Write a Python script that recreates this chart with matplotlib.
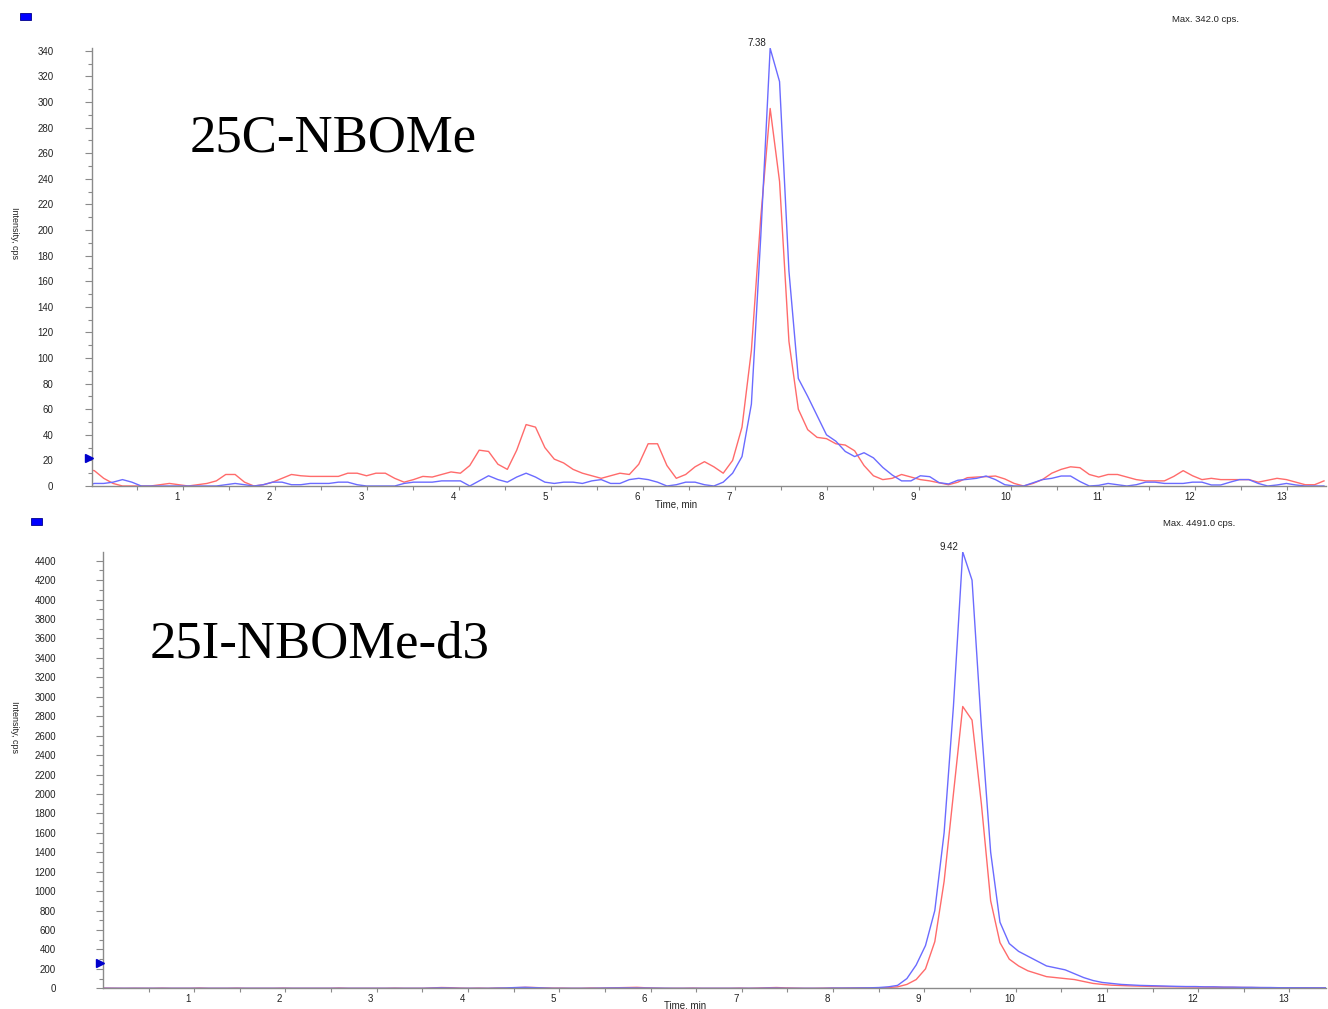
import numpy as np
import matplotlib
matplotlib.use("Agg")
import matplotlib.pyplot as plt
import matplotlib.transforms as mtransforms
from matplotlib.patches import Rectangle

plt.rcParams['font.family'] = ['Liberation Sans', 'DejaVu Sans']

W, H = 1328, 1009

# sampling: one scan every 0.102 min
dt = 0.102

# ---- upper chromatogram (25C-NBOMe), apex 7.38 min at index 74
top_peak_t = 7.38
top_peak_i = 74
top_red = [14, 13, 12, 6, 2, 0, 0, 0, 0, 1,
           2, 1, 0, 1, 2, 4, 9, 9, 3, 0,
           1, 3, 6, 9, 8, 7.5, 7.5, 7.5, 7.5, 10,
           10, 8, 10, 10, 6, 3, 5, 7.5, 7, 9,
           11, 10, 16, 28, 27, 17, 13, 28, 48, 46,
           30, 21, 18, 13, 10, 8, 6, 8, 10, 9,
           17, 33, 33, 16, 6, 9, 15, 19, 15, 10,
           20, 46, 106, 210, 295, 238, 113, 60, 44, 38,
           37, 33, 32, 27.5, 16, 8, 5, 6, 9, 7,
           5, 4, 2.5, 1, 3, 6.5, 7, 7.3, 7.8, 5.5,
           2, 0, 2, 5, 10, 13, 15, 14.3, 9, 7,
           9, 9, 7, 5, 4, 4, 4, 7.5, 12, 8,
           5, 6, 5, 5, 5, 5, 3, 4.5, 6, 5,
           3, 1, 1, 4]
top_blue = [0, 0, 2, 2, 3, 5, 3, 0, 0, 0,
            0, 0, 0, 0, 0, 0, 1, 2, 1, 0,
            1, 3, 3, 1, 1, 2, 2, 2, 3, 3,
            1, 0, 0, 0, 0, 2, 3, 3, 3, 4,
            4, 4, 0, 4, 8, 5, 3, 7, 10, 7,
            3, 2, 3, 3, 2, 4, 5, 2, 2, 5,
            6, 5, 3, 0, 1, 3, 3, 1, 0, 3,
            10, 23, 64, 195, 342, 316, 168, 84, 70, 55,
            40, 35, 27, 23, 26, 22, 14.5, 8.6, 4, 4,
            8, 7.3, 2.6, 1.6, 4.5, 5.2, 6, 7.8, 5, 1,
            0, 0, 2.5, 5, 6, 7.8, 7.8, 3.5, 0, 0.5,
            2, 1, 0, 1, 3, 3, 2, 2, 2, 3,
            3, 0.8, 0.8, 3, 5, 5, 2, 0, 0.8, 2,
            0.8, 0, 0, 0]

# ---- lower chromatogram (25I-NBOMe-d3), apex 9.42 min at index 93
bot_peak_t = 9.42
bot_peak_i = 93
bot_red = [3, 2, 0, 0, 1, 0, 0, 2, 0, 0,
           0, 3, 0, 0, 0, 2, 0, 0, 0, 0,
           2, 0, 0, 0, 0, 0, 3, 0, 0, 0,
           0, 0, 2, 0, 0, 0, 4, 8, 6, 2,
           0, 2, 0, 3, 2, 6, 10, 8, 4, 2,
           2, 0, 0, 3, 2, 4, 6, 8, 10, 5,
           2, 0, 0, 0, 2, 0, 0, 0, 0, 2,
           0, 3, 5, 8, 4, 2, 0, 0, 2, 3,
           2, 3, 4, 3,
           3, 8, 15, 40, 90, 200, 480, 1100, 2000, 2900,
           2760, 1900, 900, 470, 300, 230, 180, 150, 120, 110,
           100, 90, 70, 50, 40, 32, 28, 25, 22, 20,
           18, 16, 15, 14, 12, 12, 10, 10, 9, 8,
           8, 7, 6, 6, 5, 5, 4, 4, 4]
bot_blue = [0, 0, 0, 0, 0, 0, 0, 0, 0, 0,
            0, 0, 0, 0, 0, 0, 0, 0, 0, 0,
            0, 0, 0, 0, 0, 0, 0, 0, 0, 0,
            0, 0, 0, 0, 0, 0, 2, 4, 2, 0,
            0, 0, 0, 2, 4, 8, 10, 6, 3, 0,
            0, 0, 0, 0, 2, 3, 4, 4, 3, 2,
            0, 0, 0, 0, 0, 0, 0, 0, 0, 0,
            0, 0, 2, 2, 0, 0, 0, 0, 0, 2,
            2, 3, 4, 5,
            8, 15, 30, 100, 240, 440, 800, 1600, 2900, 4491,
            4200, 2700, 1400, 680, 460, 380, 330, 280, 230, 210,
            190, 150, 110, 80, 60, 50, 40, 35, 30, 28,
            25, 22, 20, 18, 18, 15, 15, 12, 12, 10,
            10, 8, 8, 6, 6, 5, 5, 5, 5]

top_t = top_peak_t + dt * (np.arange(len(top_red)) - top_peak_i)
bot_t = bot_peak_t + dt * (np.arange(len(bot_red)) - bot_peak_i)

blue = '#6b6bff'
red = '#ff6b6b'
gray = '#8a8a8a'
txt = '#222222'

fig = plt.figure(figsize=(W / 100, H / 100), dpi=100)


def fx(px):
    return px / W


def fy(py):
    return 1 - py / H


def style_axes(ax, xlim, ylim, ymajor, yminor, ypad):
    ax.set_xlim(*xlim)
    ax.set_ylim(*ylim)
    for s in ['top', 'right']:
        ax.spines[s].set_visible(False)
    for s in ['left', 'bottom']:
        ax.spines[s].set_color(gray)
        ax.spines[s].set_linewidth(1.0)
    ax.set_xticks(np.arange(1, 14))
    ax.set_xticks(np.arange(0.5, 13.5, 0.5), minor=True)
    ax.set_yticks(np.arange(0, ylim[1] - 1, ymajor))
    ax.set_yticks(np.arange(0, ylim[1] - 1, yminor), minor=True)
    ax.tick_params(axis='x', which='both', direction='out', length=3, width=0.8,
                   color=gray, labelsize=7, labelcolor=txt, pad=1)
    ax.tick_params(axis='y', which='major', direction='out', length=5, width=0.8,
                   color=gray, labelsize=7, labelcolor=txt, pad=ypad)
    ax.tick_params(axis='y', which='minor', direction='out', length=3, width=0.8,
                   color=gray)
    ax.patch.set_alpha(0)
    off = mtransforms.ScaledTranslation(-6 / 100, 0, fig.dpi_scale_trans)
    for tk in ax.xaxis.get_major_ticks():
        tk.label1.set_transform(tk.label1.get_transform() + off)


def edge_marker(ax, yval):
    tr = mtransforms.blended_transform_factory(ax.transAxes, ax.transData)
    tr = tr + mtransforms.ScaledTranslation(-3.5 / 100, 0, fig.dpi_scale_trans)
    ax.plot([0], [yval], marker='>', ms=6, color='#0000cc', mec='#0000cc',
            clip_on=False, transform=tr, zorder=5)


# upper panel
ax1 = fig.add_axes([fx(92.3), fy(486), fx(1326 - 92.3), (486 - 47.7) / H])
ax1.plot(top_t, top_red, color=red, lw=1.0)
ax1.plot(top_t, top_blue, color=blue, lw=1.0)
style_axes(ax1, (0.014, 13.42), (0, 342.5), 20, 10, 23)
ax1.annotate('7.38', xy=(top_peak_t, max(top_blue)), xytext=(-3, 0),
             textcoords='offset points', ha='right', va='bottom', fontsize=7,
             color=txt, annotation_clip=False)
edge_marker(ax1, 22)

# lower panel
ax2 = fig.add_axes([fx(103.3), fy(988.3), fx(1326 - 103.3), (988.3 - 551.7) / H])
ax2.plot(bot_t, bot_red, color=red, lw=1.0)
ax2.plot(bot_t, bot_blue, color=blue, lw=1.0)
style_axes(ax2, (0.004, 13.40), (0, 4493), 200, 100, 29)
ax2.annotate('9.42', xy=(bot_peak_t, max(bot_blue)), xytext=(-3, 0),
             textcoords='offset points', ha='right', va='bottom', fontsize=7,
             color=txt, annotation_clip=False)
edge_marker(ax2, 260)

# compound names
fig.text(fx(190), fy(152), '25C-NBOMe', family='Liberation Serif', fontsize=38,
         ha='left', va='baseline', color='black')
fig.text(fx(150), fy(658), '25I-NBOMe-d3', family='Liberation Serif', fontsize=38,
         ha='left', va='baseline', color='black')

# header items
fig.text(fx(1205), fy(19), 'Max. 342.0 cps.', fontsize=6.8, ha='center', va='center', color=txt)
fig.text(fx(1199), fy(524), 'Max. 4491.0 cps.', fontsize=6.8, ha='center', va='center', color=txt)
fig.add_artist(Rectangle((fx(20), fy(20)), 11 / W, 7 / H, transform=fig.transFigure,
                         fc='#0000ff', ec='#00008b', lw=0.6))
fig.add_artist(Rectangle((fx(31), fy(525)), 11 / W, 7 / H, transform=fig.transFigure,
                         fc='#0000ff', ec='#00008b', lw=0.6))

# axis titles
fig.text(fx(676), fy(504), 'Time, min', fontsize=7, ha='center', va='center', color=txt)
fig.text(fx(685), fy(1005), 'Time, min', fontsize=7, ha='center', va='center', color=txt)
fig.text(fx(14), fy(233), 'Intensity, cps', fontsize=6.5, rotation=270,
         ha='center', va='center', color=txt)
fig.text(fx(14), fy(727), 'Intensity, cps', fontsize=6.5, rotation=270,
         ha='center', va='center', color=txt)

fig.savefig('out.png', dpi=100)
